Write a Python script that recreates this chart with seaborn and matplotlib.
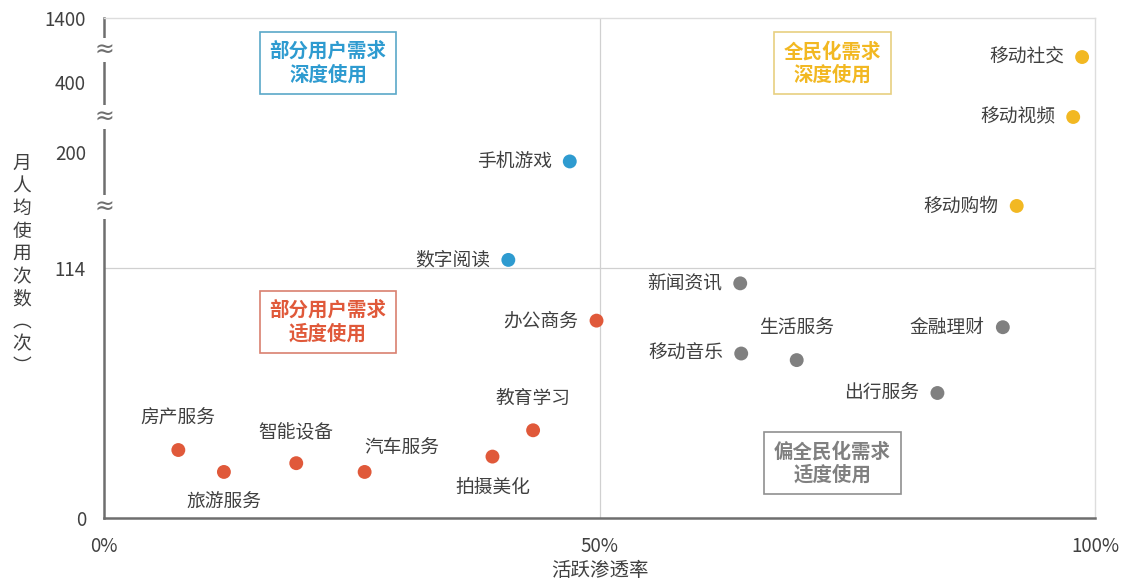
import numpy as np
import pandas as pd
import seaborn as sns
import matplotlib.pyplot as plt
from matplotlib import transforms

# 各行业：活跃渗透率(%) vs 月人均使用次数
apps = ["移动社交", "移动视频", "移动购物", "手机游戏", "数字阅读",
        "新闻资讯", "办公商务", "金融理财", "移动音乐", "生活服务",
        "出行服务", "教育学习", "拍摄美化", "房产服务", "旅游服务",
        "智能设备", "汽车服务"]
penetration = [98.7, 97.8, 92.1, 47.0, 40.8,
               64.2, 49.7, 90.7, 64.3, 69.9,
               84.1, 43.3, 39.2, 7.5, 12.1,
               19.4, 26.3]
usage = [790, 300, 160, 193, 120,
         107, 90, 87, 75, 72,
         57, 40, 28, 31, 21,
         25, 21]
group = ["全民深度", "全民深度", "全民深度", "部分深度", "部分深度",
         "偏全民适度", "部分适度", "偏全民适度", "偏全民适度", "偏全民适度",
         "偏全民适度", "部分适度", "部分适度", "部分适度", "部分适度",
         "部分适度", "部分适度"]

y_ticks = [0, 114, 200, 400, 1400]
x_ticks = [0, 50, 100]
x_tick_labels = ["0%", "50%", "100%"]

df = pd.DataFrame({"app": apps, "pen": penetration, "use": usage, "group": group})

palette = {"全民深度": "#F2B822", "部分深度": "#2E9BD0",
           "部分适度": "#E0593A", "偏全民适度": "#808080"}

sns.set_theme(style="white")
plt.rcParams['font.family'] = ['Noto Sans CJK SC', 'DejaVu Sans']

# 断轴：分段线性刻度
pos = [0, 250, 366, 436, 500]
fwd = lambda v: np.interp(v, y_ticks, pos)
inv = lambda p: np.interp(p, pos, y_ticks)

fig = plt.figure(figsize=(11.31, 5.85), dpi=100)
ax = fig.add_axes([104 / 1131, 1 - 518 / 585, 991 / 1131, 500 / 585])
ax.set_yscale('function', functions=(fwd, inv))
ax.set_xlim(0, 100)
ax.set_ylim(0, 1400)

# 象限分割线
ax.axvline(50, color="#d0d0d0", lw=0.9, zorder=1)
ax.axhline(114, color="#d0d0d0", lw=0.9, zorder=1)

sns.scatterplot(data=df, x="pen", y="use", hue="group", palette=palette,
                s=100, edgecolor="none", legend=False, ax=ax, zorder=3)

offsets = {
    "房产服务": (0, 23, "center"), "旅游服务": (0, -21, "center"),
    "智能设备": (0, 22, "center"), "汽车服务": (27, 17, "center"),
    "教育学习": (0, 23, "center"), "拍摄美化": (0, -22, "center"),
    "生活服务": (0, 23, "center"),
}
for a, x, y in zip(apps, penetration, usage):
    dx, dy, ha = offsets.get(a, (-13, 0, "right"))
    ax.annotate(a, (x, y), xytext=(dx, dy), textcoords="offset points",
                ha=ha, va="center", fontsize=13.5, color="#404040")

# 象限说明框
boxes = [(0.226, 0.91, "部分用户需求\n深度使用", "#2E9BD0", "#5aa8c8"),
         (0.735, 0.91, "全民化需求\n深度使用", "#F2B822", "#e8cf80"),
         (0.226, 0.392, "部分用户需求\n适度使用", "#E0593A", "#d98070"),
         (0.735, 0.11, "偏全民化需求\n适度使用", "#808080", "#909090")]
for bx, by, txt, c, ec in boxes:
    ax.text(bx, by, txt, transform=ax.transAxes, ha="center", va="center",
            fontsize=14, fontweight="bold", color=c, linespacing=1.25,
            bbox=dict(boxstyle="square,pad=0.5", fc="white", ec=ec, lw=1.2))

# 坐标轴
for s in ["left", "bottom"]:
    ax.spines[s].set_color("#6e6e6e")
    ax.spines[s].set_linewidth(1.8)
for s in ["top", "right"]:
    ax.spines[s].set_color("#dddddd")
    ax.spines[s].set_linewidth(1.0)

ax.set_yticks(y_ticks)
ax.set_yticklabels([str(t) for t in y_ticks])
ax.set_xticks(x_ticks)
ax.set_xticklabels(x_tick_labels)
ax.tick_params(axis="y", length=0, pad=13, labelsize=13.5, labelcolor="#404040")
ax.tick_params(axis="x", length=0, pad=13, labelsize=13.5, labelcolor="#404040")
ax.minorticks_off()
ax.set_xlabel("活跃渗透率", fontsize=14, color="#404040", labelpad=2)
ax.set_ylabel("")

# 断轴符号
trans = transforms.blended_transform_factory(ax.transAxes, ax.transData)
for lo, hi in zip(y_ticks[1:-1], y_ticks[2:]):
    mid = inv((fwd(lo) + fwd(hi)) / 2)
    if lo == 114:
        mid = inv((fwd(lo) + fwd(hi)) / 2 + 3)
    ax.text(0, mid, "≈", transform=trans, ha="center", va="center",
            fontsize=17, color="#6e6e6e", family="DejaVu Sans",
            bbox=dict(boxstyle="square,pad=0.0", fc="white", ec="none"))

# 竖排 y 轴标题
fig.text(22 / 1131, 1 - 265 / 585, "\n".join("月人均使用次数︵次︶"),
         ha="center", va="center", fontsize=13.5, color="#404040", linespacing=1.1)

fig.savefig("out.png", dpi=100)
